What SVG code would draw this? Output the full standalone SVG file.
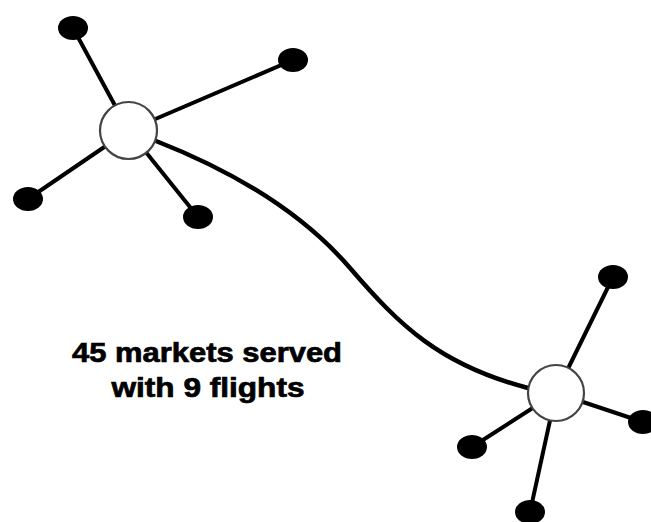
<svg xmlns="http://www.w3.org/2000/svg" width="651" height="522" viewBox="0 0 651 522">
  <style>
    .spoke { stroke: #000; stroke-width: 4; fill: none; stroke-linecap: round; }
    .route { stroke: #000; stroke-width: 4.5; fill: none; stroke-linecap: round; }
    .hub { fill: #fff; stroke: #444; stroke-width: 2.2; }
    .city { fill: #000; }
    .label { font-family: "Liberation Sans", Arial, sans-serif; font-weight: bold; font-size: 27px; fill: #000; stroke: #000; stroke-width: 0.7; text-anchor: middle; }
  </style>
  <rect width="651" height="522" fill="#fff"/>

  <!-- connectors: spokes to outlying cities and the trunk route between hubs -->
  <g id="connectors">
    <line class="spoke" x1="128.5" y1="130.5" x2="73" y2="28"/>
    <line class="spoke" x1="128.5" y1="130.5" x2="293" y2="60"/>
    <line class="spoke" x1="128.5" y1="130.5" x2="28" y2="199"/>
    <line class="spoke" x1="128.5" y1="130.5" x2="198" y2="217"/>
    <line class="spoke" x1="556" y1="393" x2="613" y2="277"/>
    <line class="spoke" x1="556" y1="393" x2="643" y2="422"/>
    <line class="spoke" x1="556" y1="393" x2="472" y2="447"/>
    <line class="spoke" x1="556" y1="393" x2="530" y2="512"/>
    <path class="route" d="M156,141 C230,170 300,210 350,268 S440,365 528,388"/>
  </g>

  <!-- first hub and its cities -->
  <g id="city-a1"><ellipse class="city" cx="73" cy="28" rx="15" ry="12"/></g>
  <g id="city-a2"><ellipse class="city" cx="293" cy="60" rx="15" ry="12"/></g>
  <g id="city-a3"><ellipse class="city" cx="28" cy="199" rx="15" ry="12"/></g>
  <g id="city-a4"><ellipse class="city" cx="198" cy="217" rx="15" ry="12"/></g>
  <g id="hub-a"><circle class="hub" cx="128.5" cy="130.5" r="28.5"/></g>

  <!-- second hub and its cities -->
  <g id="city-b1"><ellipse class="city" cx="613" cy="277" rx="15" ry="12"/></g>
  <g id="city-b2"><ellipse class="city" cx="643" cy="422" rx="15" ry="12"/></g>
  <g id="city-b3"><ellipse class="city" cx="472" cy="447" rx="15" ry="12"/></g>
  <g id="city-b4"><ellipse class="city" cx="530" cy="512" rx="15" ry="12"/></g>
  <g id="hub-b"><circle class="hub" cx="556" cy="393" r="28"/></g>

  <g id="caption">
    <text class="label" x="207" y="362" textLength="270" lengthAdjust="spacingAndGlyphs">45 markets served</text>
    <text class="label" x="208" y="397" textLength="193" lengthAdjust="spacingAndGlyphs">with 9 flights</text>
  </g>
</svg>
